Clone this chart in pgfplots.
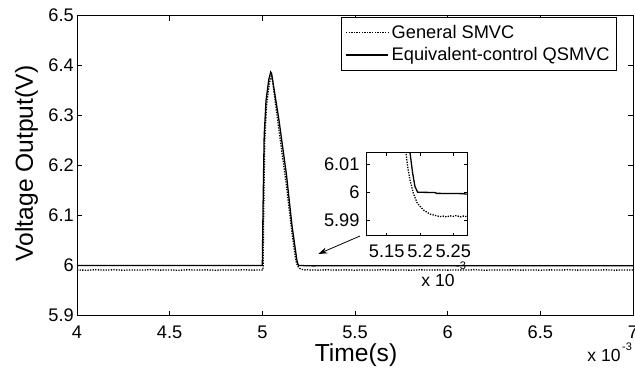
\documentclass[border=0pt]{standalone}
\usepackage{pgfplots}
\pgfplotsset{compat=1.18}
\usepackage{fontspec}
\setmainfont{Liberation Sans}
\usetikzlibrary{arrows.meta}
\begin{document}
\begin{tikzpicture}
\begin{axis}[
 at={(0,0)}, anchor=south west,
 scale only axis, width=556bp, height=300bp,
 xmin=4, xmax=7, ymin=5.9, ymax=6.5,
 xtick={4,4.5,5,5.5,6,6.5,7}, xticklabels={4,4.5,5,5.5,6,6.5,7},
 ytick={5.9,6,6.1,6.2,6.3,6.4,6.5}, yticklabels={5.9,6,6.1,6.2,6.3,6.4,6.5},
 scaled ticks=false,
 tick align=inside, major tick length=5bp,
 axis line style={line width=0.8bp}, every tick/.style={black,line width=0.8bp},
 tick label style={font=\fontsize{18.3}{20}\selectfont},
 yticklabel style={inner sep=0pt, xshift=-3bp},
 xticklabel style={inner sep=0pt, yshift=-10bp},
 legend style={at={(axis description cs:1,1)}, anchor=north east, xshift=-16bp, yshift=-1.2bp,
   draw=black, line width=0.8bp, fill=white, font=\fontsize{18.3}{20}\selectfont,
   inner xsep=4bp, inner ysep=4.9bp, row sep=2bp,
   nodes={inner xsep=3bp, inner ysep=3bp}},
 legend cell align=left,
 legend image code/.code={\draw[#1] (0bp,0bp) -- (42bp,0bp);},
]
\addplot[black, line width=1.3bp, dash pattern=on 1.3bp off 1.3bp] coordinates {
(4,5.9912)(4.05,5.9905)(4.1,5.9915)(4.15,5.9908)(4.2,5.9914)(4.25,5.9906)(4.3,5.9912)
(4.35,5.9909)(4.4,5.9916)(4.45,5.9907)(4.5,5.9911)(4.55,5.9905)(4.6,5.9914)(4.65,5.9909)
(4.7,5.9913)(4.75,5.9906)(4.8,5.9912)(4.85,5.9908)(4.9,5.9915)(4.95,5.9907)(5.0,5.9911)
(5.004,5.991)(5.007,6.1)(5.013,6.25)(5.023,6.32)(5.038,6.365)(5.048,6.378)(5.053,6.375)
(5.09,6.27)(5.13,6.16)(5.16,6.065)(5.179,6.014)(5.1815,6.009)(5.185,6.0043)(5.19,5.9995)
(5.196,5.996)(5.205,5.9936)(5.215,5.9921)(5.23,5.9912)(5.24,5.9915)(5.25,5.9914)(5.26,5.991)
(5.27,5.9912)(5.3,5.9907)(5.35,5.9914)(5.4,5.9908)(5.45,5.9913)(5.5,5.9906)(5.55,5.9912)
(5.6,5.9909)(5.65,5.9915)(5.7,5.9907)(5.75,5.9912)(5.8,5.9906)(5.85,5.9914)(5.9,5.9909)
(5.95,5.9913)(6,5.9907)(6.05,5.9912)(6.1,5.9908)(6.15,5.9915)(6.2,5.9906)(6.25,5.9911)
(6.3,5.9909)(6.35,5.9914)(6.4,5.9907)(6.45,5.9912)(6.5,5.9906)(6.55,5.9913)(6.6,5.9909)
(6.65,5.9915)(6.7,5.9907)(6.75,5.9912)(6.8,5.9908)(6.85,5.9914)(6.9,5.9906)(6.95,5.9912)(7,5.991)
};
\addlegendentry{General SMVC}
\addplot[black, line width=1.3bp] coordinates {
(4,6.0)(5.0,6.0)(5.004,6.12)(5.01,6.26)(5.02,6.33)(5.035,6.372)(5.045,6.387)(5.05,6.384)
(5.09,6.29)(5.13,6.182)(5.16,6.08)(5.185,6.014)(5.189,6.0067)(5.1925,6.0019)(5.1965,5.9999)
(5.2225,5.9998)(5.225,5.9995)(5.265,5.9994)(5.27,5.9992)(5.3,5.9994)(7,5.9994)
};
\addlegendentry{Equivalent-control QSMVC\hspace{10bp}}
\end{axis}
\node[font=\fontsize{24.7}{28}\selectfont, inner sep=0pt, rotate=90] at (-50.5bp,152bp) {Voltage Output(V)};
\node[font=\fontsize{24.7}{28}\selectfont, inner sep=0pt, anchor=north] at (279bp,-28bp) {Time(s)};
\begin{axis}[
 at={(289.7bp,79.8bp)}, anchor=south west,
 scale only axis, width=100.3bp, height=83bp,
 xmin=5.12, xmax=5.2706, ymin=5.9844, ymax=6.014,
 xtick={5.15,5.2,5.25}, xticklabels={5.15,5.2,5.25},
 ytick={5.99,6,6.01}, yticklabels={5.99,6,6.01},
 scaled ticks=false,
 axis background/.style={fill=white},
 tick align=inside, major tick length=3bp,
 axis line style={line width=0.8bp}, every tick/.style={black,line width=0.8bp},
 tick label style={font=\fontsize{18.3}{20}\selectfont},
 yticklabel style={inner sep=0pt, xshift=-7bp},
 xticklabel style={inner sep=0pt, yshift=-9bp},
]
\addplot[black, line width=1.3bp, dash pattern=on 1.3bp off 1.3bp] coordinates {
(5.176,6.02)(5.179,6.014)(5.1815,6.009)(5.185,6.0043)(5.19,5.9995)(5.196,5.996)(5.205,5.9936)
(5.215,5.9921)(5.23,5.9912)(5.235,5.9914)(5.24,5.9911)(5.245,5.9915)(5.25,5.9913)(5.255,5.9916)
(5.26,5.9911)(5.265,5.9914)(5.27,5.9912)
};
\addplot[black, line width=1.3bp] coordinates {
(5.183,6.02)(5.185,6.014)(5.189,6.0067)(5.1925,6.0019)(5.1965,5.9999)
(5.2225,5.9998)(5.225,5.9995)(5.265,5.9994)(5.27,5.9992)
};
\end{axis}
\node[font=\fontsize{17.6}{20}\selectfont, inner sep=0pt] at (361bp,35.5bp) {x 10};
\node[font=\fontsize{11}{12}\selectfont, inner sep=0pt] at (384bp,50bp) {-3};
\node[font=\fontsize{17.6}{20}\selectfont, inner sep=0pt] at (527bp,-39.5bp) {x 10};
\node[font=\fontsize{11}{12}\selectfont, inner sep=0pt] at (550bp,-31.5bp) {-3};
\draw[line width=0.8bp, -{Stealth[length=9bp,width=6bp]}] (283bp,79.5bp) -- (241.3bp,61.5bp);
\pgfresetboundingbox
\path (-77bp,-53.5bp) rectangle (558bp,315.5bp);
\end{tikzpicture}
\end{document}
